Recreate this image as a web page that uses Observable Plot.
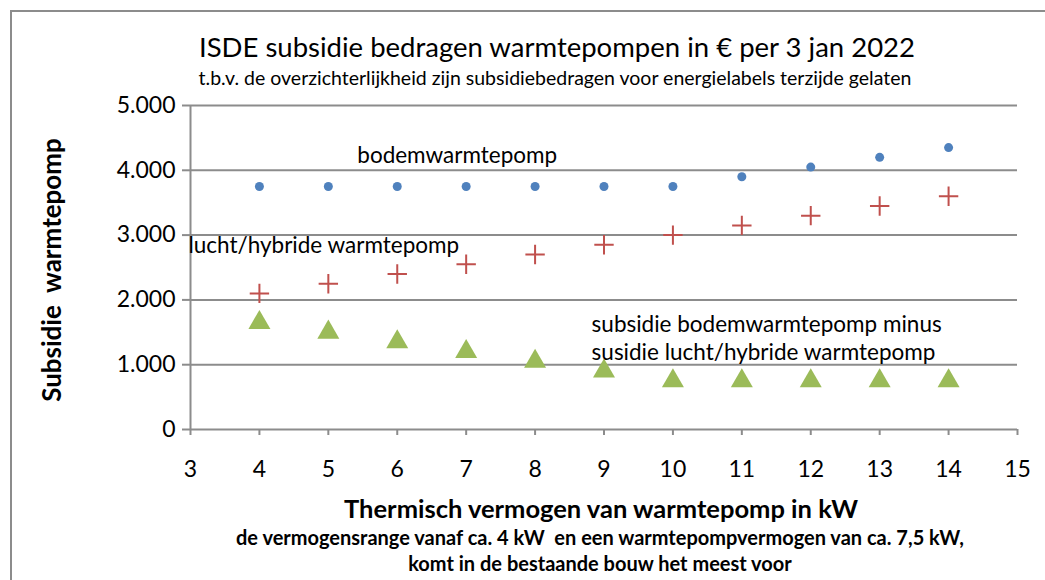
<!DOCTYPE html>
<html><head><meta charset="utf-8">
<script src="https://cdn.jsdelivr.net/npm/d3@7"></script>
<script src="https://cdn.jsdelivr.net/npm/@observablehq/plot@0.6"></script>
<style>
body{margin:0;background:#fff;font-family:Lato,"Open Sans",sans-serif;}
#wrap{position:relative;width:1045px;height:580px;overflow:hidden;}
#frame{position:absolute;left:10px;top:10px;width:1100px;height:600px;border:2px solid #8c8c8c;box-sizing:border-box;}
.t{position:absolute;white-space:nowrap;color:#000;line-height:1.2;}
</style></head><body>
<div id="wrap">
<div id="frame"></div>
<div id="chart" style="position:absolute;left:0;top:0"></div>
<div class="t" style="left:0;width:1114px;text-align:center;top:30px;font-size:27.5px;">ISDE subsidie bedragen warmtepompen in € per 3 jan 2022</div>
<div class="t" style="left:0;width:1110px;text-align:center;top:66px;font-size:19.5px;">t.b.v. de overzichterlijkheid zijn subsidiebedragen voor energielabels terzijde gelaten</div>
<div class="t" style="left:0;width:1202px;text-align:center;top:493px;font-size:25.5px;font-weight:bold;">Thermisch vermogen van warmtepomp in kW</div>
<div class="t" style="left:0;width:1200px;text-align:center;top:525px;font-size:20px;font-weight:bold;">de vermogensrange vanaf ca. 4 kW&nbsp; en een warmtepompvermogen van ca. 7,5 kW,</div>
<div class="t" style="left:0;width:1200px;text-align:center;top:551px;font-size:20px;font-weight:bold;">komt in de bestaande bouw het meest voor</div>
<div class="t" style="left:52px;top:270px;font-size:26px;font-weight:bold;transform:translate(-50%,-50%) rotate(-90deg);">Subsidie&nbsp; warmtepomp</div>
</div>
<script>
const kw = [4,5,6,7,8,9,10,11,12,13,14];
const bodem = [3750,3750,3750,3750,3750,3750,3750,3900,4050,4200,4350];
const lucht = [2100,2250,2400,2550,2700,2850,3000,3150,3300,3450,3600];
const verschil = [1650,1500,1350,1200,1050,900,750,750,750,750,750];
const xTicks = [3,4,5,6,7,8,9,10,11,12,13,14,15];
const yTicks = [0,1000,2000,3000,4000,5000];
const labels = [
  {x:5.42, y:4220, text:"bodemwarmtepomp"},
  {x:2.97, y:2840, text:"lucht/hybride warmtepomp"},
  {x:8.82, y:1620, text:"subsidie bodemwarmtepomp minus"},
  {x:8.82, y:1190, text:"susidie lucht/hybride warmtepomp"}
];
const rows = kw.map((k,i)=>({kw:k, bodem:bodem[i], lucht:lucht[i], verschil:verschil[i]}));
const fmt = d => d===0 ? "0" : d3.format(",")(d).replace(/,/g,".");
const grey = "#8c8c8c";
const chart = Plot.plot({
  width:1045, height:580,
  marginLeft:190, marginRight:28, marginTop:105, marginBottom:151,
  style:{fontFamily:"Lato, 'Open Sans', sans-serif", background:"transparent", overflow:"visible"},
  x:{domain:[3,15], ticks:xTicks, label:null},
  y:{domain:[0,5000], ticks:yTicks, label:null},
  marks:[
    Plot.ruleY(yTicks, {stroke:grey, strokeWidth:2}),
    Plot.ruleX([3], {stroke:grey, strokeWidth:2}),
    Plot.axisY({ticks:yTicks, tickFormat:fmt, tickSize:8, stroke:grey, strokeWidth:2, strokeOpacity:1, tickPadding:7, fontSize:23, fill:"#000", label:null}),
    Plot.axisX({ticks:xTicks, tickSize:6, stroke:grey, strokeWidth:2, strokeOpacity:1, tickPadding:25, fontSize:23, fill:"#000", label:null}),
    Plot.dot(rows, {x:"kw", y:"bodem", r:4.5, fill:"#4F81BD", stroke:null}),
    Plot.dot(rows, {x:"kw", y:"lucht", symbol:"plus", r:6.3, stroke:"#C0504D", strokeWidth:2}),
    Plot.dot(rows, {x:"kw", y:"verschil", symbol:"triangle2", r:10.5, fill:"#9BBB59", stroke:null}),
    Plot.text(labels, {x:"x", y:"y", text:"text", textAnchor:"start", fontSize:22.5, fill:"#000"})
  ]
});
document.getElementById("chart").appendChild(chart);
</script>
</body></html>
